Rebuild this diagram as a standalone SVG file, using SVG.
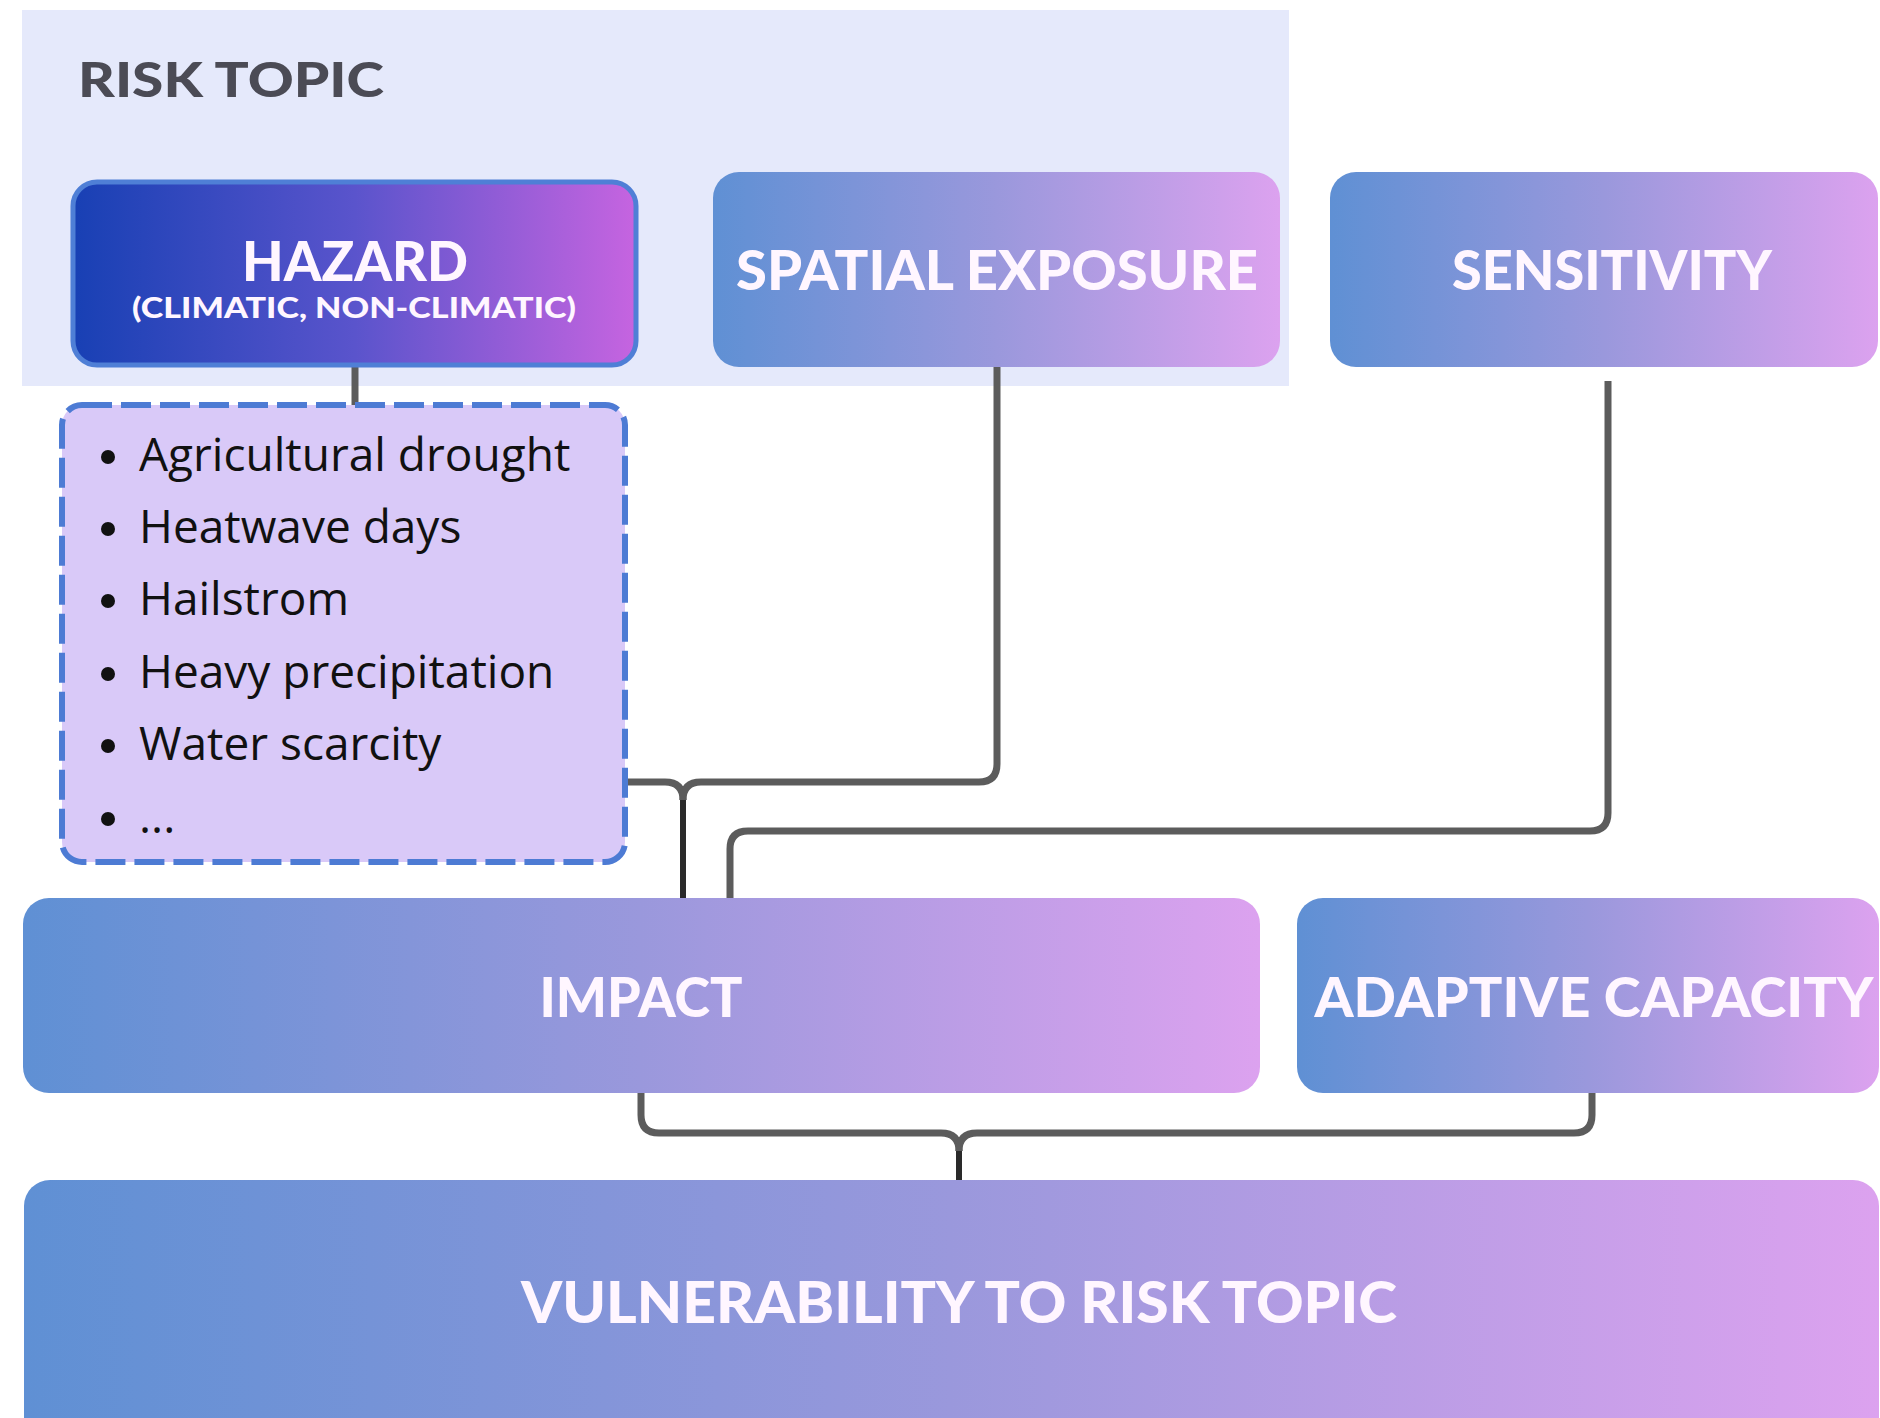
<svg xmlns="http://www.w3.org/2000/svg" width="1880" height="1418" viewBox="0 0 1880 1418">
  <defs>
    <linearGradient id="gMain" x1="0" y1="0" x2="1" y2="0">
      <stop offset="0" stop-color="#5f90d4"/>
      <stop offset="0.5" stop-color="#9a98dc"/>
      <stop offset="1" stop-color="#dca2ef"/>
    </linearGradient>
    <linearGradient id="gHazard" x1="0" y1="0" x2="1" y2="0">
      <stop offset="0" stop-color="#1840b4"/>
      <stop offset="0.5" stop-color="#5a54cc"/>
      <stop offset="1" stop-color="#c664e0"/>
    </linearGradient>
    <style>
      .box { fill: url(#gMain); }
      .head { font-family: Lato, "Liberation Sans", sans-serif; font-weight: 900; fill: #fff6ff; text-anchor: middle; }
      .item { font-family: "Open Sans", "Liberation Sans", sans-serif; font-size: 46px; font-weight: 500; fill: #111111; }
      .conn { fill: none; stroke: #5c5c5c; stroke-width: 7; stroke-linecap: butt; stroke-linejoin: round; }
      .stem { fill: none; stroke: #2a2a2a; stroke-width: 6; }
    </style>
  </defs>

  <rect width="1880" height="1418" fill="#ffffff"/>

  <g id="risk-topic">
    <rect x="22" y="10" width="1267" height="376" fill="#e5e9fb"/>
    <text x="78" y="97" font-family="Lato, 'Liberation Sans', sans-serif" font-weight="900" font-size="47" fill="#4b4b55" textLength="306" lengthAdjust="spacingAndGlyphs">RISK TOPIC</text>
  </g>

  <g id="connectors">
    <path class="conn" d="M355,367 V405"/>
    <path class="conn" d="M626,782 H665 Q683,782 683,800"/>
    <path class="conn" d="M997,367 V764 Q997,782 979,782 H701 Q683,782 683,800"/>
    <path class="stem" d="M683,800 V898"/>
    <path class="conn" d="M1608,381 V813 Q1608,831 1590,831 H748 Q730,831 730,849 V898"/>
    <path class="conn" d="M641,1093 V1115 Q641,1133 659,1133 H941 Q959,1133 959,1151"/>
    <path class="conn" d="M1592,1093 V1115 Q1592,1133 1574,1133 H977 Q959,1133 959,1151"/>
    <path class="stem" d="M959,1151 V1180"/>
  </g>

  <g id="hazard">
    <rect x="73" y="182" width="563" height="183" rx="24" fill="url(#gHazard)" stroke="#4f7fd6" stroke-width="5"/>
    <text class="head" x="355" y="281" font-size="56" textLength="226" lengthAdjust="spacingAndGlyphs">HAZARD</text>
    <text class="head" x="354" y="318" font-size="29" textLength="444" lengthAdjust="spacingAndGlyphs">(CLIMATIC, NON-CLIMATIC)</text>
  </g>

  <g id="spatial-exposure">
    <rect class="box" x="713" y="172" width="567" height="195" rx="26"/>
    <text class="head" x="997" y="290" font-size="55" textLength="522" lengthAdjust="spacingAndGlyphs">SPATIAL EXPOSURE</text>
  </g>

  <g id="sensitivity">
    <rect class="box" x="1330" y="172" width="548" height="195" rx="26"/>
    <text class="head" x="1612" y="290" font-size="55" textLength="320" lengthAdjust="spacingAndGlyphs">SENSITIVITY</text>
  </g>

  <g id="hazard-list">
    <rect x="62" y="405" width="563" height="457" rx="20" fill="#d9c9f8" stroke="#4d7bd4" stroke-width="6" stroke-dasharray="30 9"/>
    <g class="item">
      <circle cx="108" cy="457" r="7" fill="#111"/>
      <text x="139" y="471">Agricultural drought</text>
      <circle cx="108" cy="529" r="7" fill="#111"/>
      <text x="139" y="543">Heatwave days</text>
      <circle cx="108" cy="601" r="7" fill="#111"/>
      <text x="139" y="615">Hailstrom</text>
      <circle cx="108" cy="674" r="7" fill="#111"/>
      <text x="139" y="688">Heavy precipitation</text>
      <circle cx="108" cy="746" r="7" fill="#111"/>
      <text x="139" y="760">Water scarcity</text>
      <circle cx="108" cy="819" r="7" fill="#111"/>
      <text x="139" y="833">...</text>
    </g>
  </g>

  <g id="impact">
    <rect class="box" x="23" y="898" width="1237" height="195" rx="26"/>
    <text class="head" x="641" y="1017" font-size="55" textLength="203" lengthAdjust="spacingAndGlyphs">IMPACT</text>
  </g>

  <g id="adaptive-capacity">
    <rect class="box" x="1297" y="898" width="582" height="195" rx="26"/>
    <text class="head" x="1594" y="1017" font-size="55" textLength="559" lengthAdjust="spacingAndGlyphs">ADAPTIVE CAPACITY</text>
  </g>

  <g id="vulnerability">
    <rect class="box" x="24" y="1180" width="1855" height="270" rx="26"/>
    <text class="head" x="959" y="1323" font-size="57" textLength="876" lengthAdjust="spacingAndGlyphs">VULNERABILITY TO RISK TOPIC</text>
  </g>
</svg>
